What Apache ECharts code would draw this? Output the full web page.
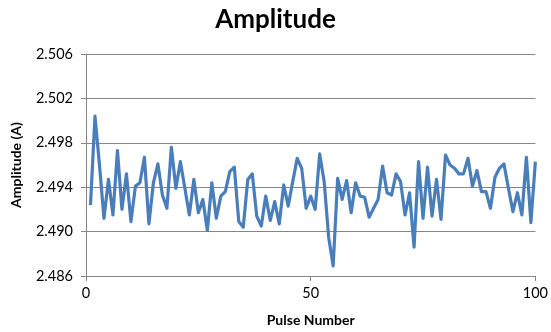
<!DOCTYPE html>
<html>
<head>
<meta charset="utf-8">
<script src="https://cdn.jsdelivr.net/npm/echarts@6/dist/echarts.min.js"></script>
<style>
  html, body { margin: 0; padding: 0; background: #fff; }
  #chart { width: 551px; height: 332px; }
</style>
</head>
<body>
<div id="chart"></div>
<script>
const titleText = 'Amplitude'
const xName = 'Pulse Number'
const yName = 'Amplitude (A)'

// pulse numbers 1..100
const pulses = [
  1, 2, 3, 4, 5, 6, 7, 8, 9, 10,
  11, 12, 13, 14, 15, 16, 17, 18, 19, 20,
  21, 22, 23, 24, 25, 26, 27, 28, 29, 30,
  31, 32, 33, 34, 35, 36, 37, 38, 39, 40,
  41, 42, 43, 44, 45, 46, 47, 48, 49, 50,
  51, 52, 53, 54, 55, 56, 57, 58, 59, 60,
  61, 62, 63, 64, 65, 66, 67, 68, 69, 70,
  71, 72, 73, 74, 75, 76, 77, 78, 79, 80,
  81, 82, 83, 84, 85, 86, 87, 88, 89, 90,
  91, 92, 93, 94, 95, 96, 97, 98, 99, 100
]

const amplitude = [
  2.4924, 2.5004, 2.4960, 2.4912, 2.4947, 2.4915, 2.4973, 2.4920, 2.4952, 2.4909,
  2.4941, 2.4944, 2.4967, 2.4907, 2.4944, 2.4961, 2.4933, 2.4921, 2.4976, 2.4939,
  2.4963, 2.4939, 2.4915, 2.4947, 2.4917, 2.4929, 2.4901, 2.4944, 2.4912, 2.4932,
  2.4936, 2.4954, 2.4958, 2.4909, 2.4904, 2.4947, 2.4952, 2.4914, 2.4905, 2.4932,
  2.4910, 2.4927, 2.4907, 2.4942, 2.4923, 2.4945, 2.4966, 2.4957, 2.4921, 2.4932,
  2.4920, 2.4970, 2.4945, 2.4895, 2.4869, 2.4948, 2.4929, 2.4946, 2.4917, 2.4944,
  2.4932, 2.4931, 2.4913, 2.4921, 2.4929, 2.4959, 2.4935, 2.4933, 2.4952, 2.4945,
  2.4915, 2.4935, 2.4886, 2.4963, 2.4912, 2.4958, 2.4914, 2.4947, 2.4911, 2.4969,
  2.4960, 2.4957, 2.4952, 2.4952, 2.4966, 2.4941, 2.4955, 2.4936, 2.4936, 2.4921,
  2.4949, 2.4957, 2.4961, 2.4939, 2.4918, 2.4935, 2.4915, 2.4967, 2.4908, 2.4963
]

const fontFamily = 'Lato, "Open Sans", sans-serif'
const axisGray = '#868686'

const chart = echarts.init(document.getElementById('chart'))

chart.setOption({
  animation: false,
  backgroundColor: '#fff',
  title: {
    text: titleText,
    left: 'center',
    top: 2,
    textStyle: { fontFamily, fontSize: 26, fontWeight: 'bold', color: '#000' }
  },
  grid: { left: 86, right: 15, top: 54, bottom: 53, containLabel: false },
  xAxis: {
    type: 'value',
    min: 0,
    max: 100,
    interval: 50,
    name: xName,
    nameLocation: 'middle',
    nameGap: 37,
    nameTextStyle: { fontFamily, fontSize: 14, fontWeight: 'bold', color: '#000' },
    axisLine: { lineStyle: { color: axisGray, width: 1 } },
    axisTick: { show: true, inside: false, length: 5, lineStyle: { color: axisGray } },
    axisLabel: { fontFamily, fontSize: 14.5, color: '#000', margin: 10 },
    splitLine: { show: false }
  },
  yAxis: {
    type: 'value',
    min: 2.486,
    max: 2.506,
    interval: 0.004,
    name: yName,
    nameLocation: 'middle',
    nameGap: 63,
    nameTextStyle: { fontFamily, fontSize: 14, fontWeight: 'bold', color: '#000' },
    axisLine: { show: true, lineStyle: { color: axisGray, width: 1 } },
    axisTick: { show: true, inside: false, length: 5, lineStyle: { color: axisGray } },
    axisLabel: {
      fontFamily, fontSize: 14.5, color: '#000', margin: 13,
      formatter: v => v.toFixed(3)
    },
    splitLine: { show: true, lineStyle: { color: axisGray, width: 1 } }
  },
  series: [{
    type: 'line',
    data: pulses.map((p, i) => [p, amplitude[i]]),
    showSymbol: false,
    symbol: 'none',
    lineStyle: { color: '#4a7ebb', width: 3.2, join: 'round' },
    itemStyle: { color: '#4a7ebb' }
  }]
})
</script>
</body>
</html>
